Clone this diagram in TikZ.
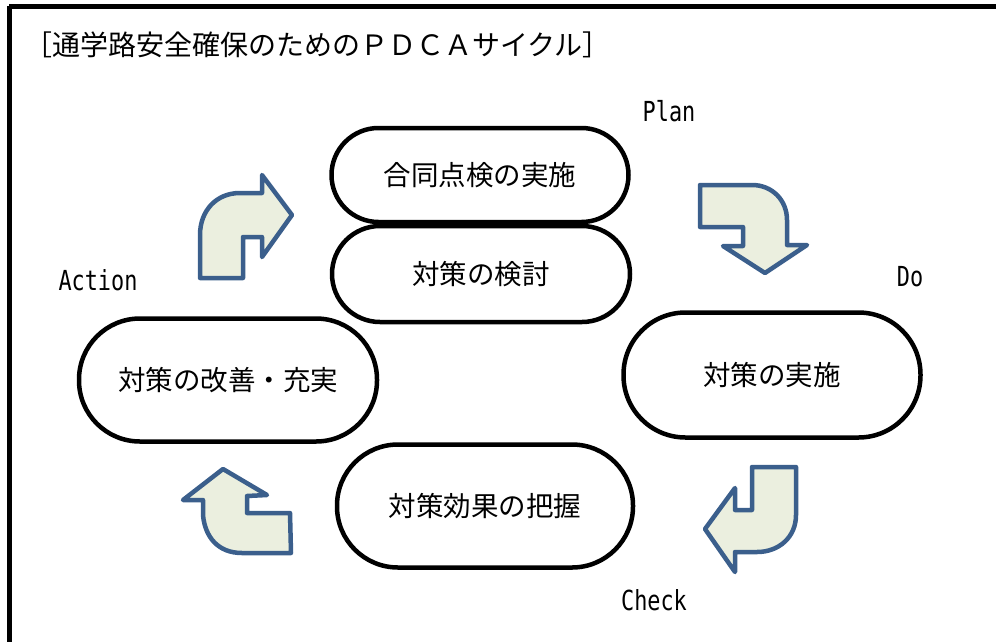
\documentclass[tikz,border=0pt]{standalone}
\usepackage{fontspec}
\newfontfamily\jp{Noto Sans CJK JP}
\newfontfamily\lbl{DejaVu Sans Mono}
\definecolor{arrfill}{HTML}{EBEFDF}
\definecolor{arrline}{HTML}{3B5F8C}
\newcommand{\phasetext}[1]{\scalebox{0.95}[1.2]{#1}}
\begin{document}
\begin{tikzpicture}[x=1pt,y=-1pt,
  pill/.style={draw=black,line width=4.5pt,fill=white,font=\jp\fontsize{27.5}{30}\selectfont,inner sep=0pt},
  bentarrow/.style={draw=arrline,fill=arrfill,line width=4.5pt,line join=round},
  phase/.style={font=\lbl\fontsize{23}{25}\selectfont,inner sep=0pt}]
\useasboundingbox (0,0) rectangle (996,641);
\draw[line width=5pt] (9,6) -- (1010,6) (9,6) -- (9,660);
\node[anchor=west,font=\jp\fontsize{28}{30}\selectfont,inner sep=0pt] (title) at (24,45) {［通学路安全確保のためのＰＤＣＡサイクル］};

\node[pill,minimum width=297pt,minimum height=94pt,rounded corners=47pt] (check1) at (480,175) {合同点検の実施};
\node[pill,minimum width=298pt,minimum height=96pt,rounded corners=48pt] (plan) at (481,274) {対策の検討};
\node[pill,minimum width=298pt,minimum height=123pt,rounded corners=61pt] (act) at (228,380) {対策の改善・充実};
\node[pill,minimum width=297pt,minimum height=125pt,rounded corners=62pt] (do) at (772,375) {対策の実施};
\node[pill,minimum width=296pt,minimum height=123pt,rounded corners=61pt] (chk) at (485,506) {対策効果の把握};

\node[phase] (lplan) at (669,111) {\phasetext{Plan}};
\node[phase] (ldo) at (910,277) {\phasetext{Do}};
\node[phase] (lact) at (98,280) {\phasetext{Action}};
\node[phase] (lchk) at (654,600) {\phasetext{Check}};

% upper-left arrow (pointing right)
\draw[bentarrow] (200,278) -- (243,278) -- (243,237) -- (262,237) -- (262,257) -- (292,215)
  -- (262,175) -- (262,193) -- (240,193) .. controls (216,193) and (200,211) .. (200,235) -- cycle;
% upper-right arrow (pointing down)
\draw[bentarrow] (700,185) -- (752,185) .. controls (772,185) and (787,200) .. (787,220)
  -- (787,245) -- (807,245) -- (765,273) -- (723,246) -- (743,246) -- (743,227) -- (700,227) -- cycle;
% lower-right arrow (pointing left)
\draw[bentarrow] (796,467) -- (752,467) -- (752,510) -- (735,510) -- (735,488) -- (705,529)
  -- (735,572) -- (735,552) -- (757,552) .. controls (779,552) and (796,537) .. (796,515) -- cycle;
% lower-left arrow (pointing up)
\draw[bentarrow] (291,553) -- (290,513) -- (247,513) -- (247,496) -- (267,495) -- (223,469)
  -- (183,500) -- (203,500) -- (203,515) .. controls (205,537) and (218,553) .. (242,553) -- cycle;
\end{tikzpicture}
\end{document}
